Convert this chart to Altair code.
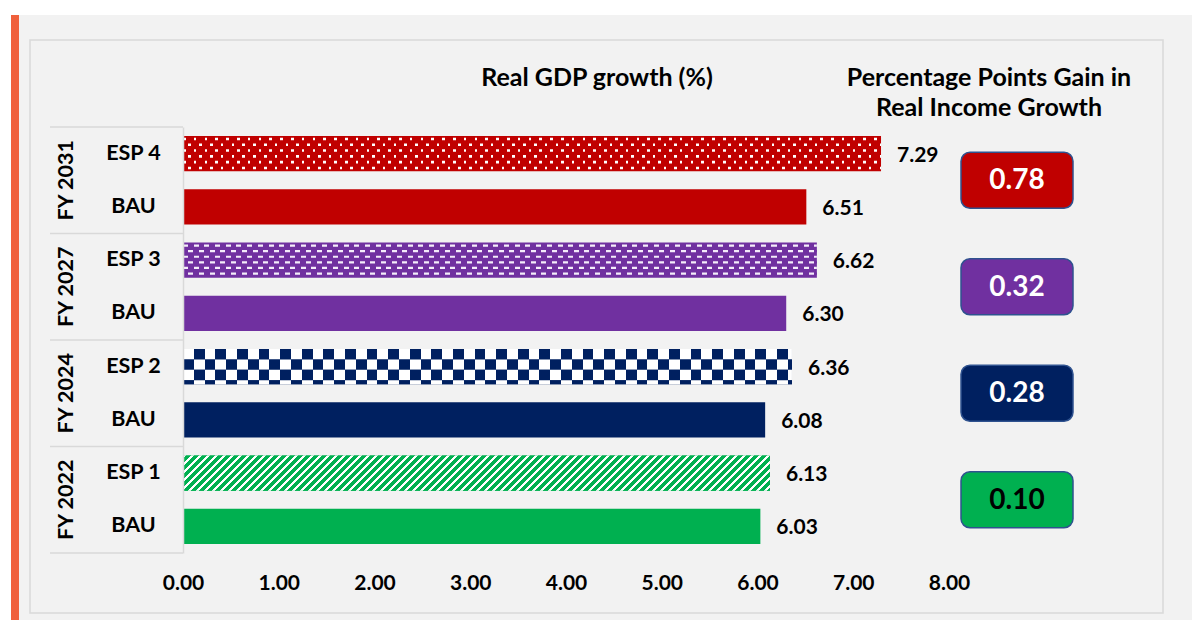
import altair as alt
import pandas as pd

# ---------------- data ----------------
groups = ["FY 2031", "FY 2027", "FY 2024", "FY 2022"]
scenarios = ["ESP 4", "ESP 3", "ESP 2", "ESP 1"]
esp_growth = [7.29, 6.62, 6.36, 6.13]
bau_growth = [6.51, 6.30, 6.08, 6.03]
income_gain = [0.78, 0.32, 0.28, 0.10]
x_ticks = [0, 1, 2, 3, 4, 5, 6, 7, 8]
title_left = "Real GDP growth (%)"
title_right = ["Percentage Points Gain in", "Real Income Growth"]

# ---------------- styles ----------------
palette = ["#C00000", "#7030A0", "#002060", "#00B050"]
gain_text_color = ["#FFFFFF", "#FFFFFF", "#FFFFFF", "#000000"]
patterns = ["dots", "dashes", "checker", "stripes"]
FONT = "Lato"
TXT = "#000000"
LINE = "#D9D9D9"
PANEL = "#F2F2F2"
ACCENT = "#F0603C"

W_PLOT = 766
H_PLOT = 426
PAD_IN = 0.34
PAD_OUT = 0.17
STEP = H_PLOT / 8
BAND = STEP * (1 - PAD_IN)
PPU = W_PLOT / 8

rows = []
for g, s, e, b, c in zip(groups, scenarios, esp_growth, bau_growth, palette):
    rows.append(dict(key=f"{g}|{s}", group=g, label=s, value=e, color=c, kind="esp"))
    rows.append(dict(key=f"{g}|BAU", group=g, label="BAU", value=b, color=c, kind="bau"))
df = pd.DataFrame(rows)
order = list(df["key"])
esp_df = df[df.kind == "esp"].reset_index(drop=True).copy()
esp_df["gain"] = income_gain
esp_df["tcolor"] = gain_text_color

yscale = alt.Scale(domain=order, paddingInner=PAD_IN, paddingOuter=PAD_OUT)
xscale = alt.Scale(domain=[0, 8], nice=False, zero=True)

Y_AXIS = alt.Axis(labelExpr="split(datum.value, '|')[1]", labelAlign="center",
                  labelBaseline="middle", labelPadding=50, ticks=False, tickSize=0,
                  domain=True, domainColor=LINE, domainWidth=1.5, grid=False,
                  labelFont=FONT, labelFontWeight="bold", labelFontSize=21.5,
                  labelColor=TXT, labelOverlap=False, title=None, zindex=2)
X_AXIS = alt.Axis(values=x_ticks, format=".2f", ticks=False, tickSize=0, domain=False,
                  grid=False, labelFont=FONT, labelFontWeight="bold", labelFontSize=21,
                  labelColor=TXT, labelPadding=19, labelOverlap=False, labelFlush=False,
                  title=None, zindex=2)


def Y():
    return alt.Y("key:N", scale=yscale, sort=order, title=None, axis=Y_AXIS)


def X():
    return alt.X("value:Q", scale=xscale, title=None, axis=X_AXIS)


def stops(base, accent, length, period, width, phase=0.0):
    pt, wt = period / length, width / length
    out = [{"color": base, "offset": 0}]
    k = phase / length - pt
    while k < 1:
        a, b = max(0.0, k), min(1.0, k + wt)
        if b > 0 and a < 1:
            out += [{"color": base, "offset": round(a, 5)},
                    {"color": accent, "offset": round(a, 5)},
                    {"color": accent, "offset": round(b, 5)},
                    {"color": base, "offset": round(b, 5)}]
        k += pt
    out.append({"color": base, "offset": 1})
    return out


def hgrad(base, accent, length, period, width, phase=0.0):
    return {"gradient": "linear", "x1": 0, "y1": 0, "x2": 1, "y2": 0,
            "stops": stops(base, accent, length, period, width, phase)}


def diag_grad(base, accent, length, period, width):
    r = BAND / length
    k = 1 + r
    eff = length * k * (1 + r * r)
    return {"gradient": "linear", "x1": 0, "y1": 0, "x2": k, "y2": k * r,
            "stops": stops(base, accent, eff, period, width)}


def rowdata(i):
    return alt.Data(values=[esp_df.loc[i, ["key", "value"]].to_dict()])


layers = []

# background panel, accent stripe and border
one = alt.Data(values=[{"a": 1}])
layers.append(alt.Chart(one).mark_rect(fill=PANEL).encode(
    x=alt.value(-172), x2=alt.value(1030), y=alt.value(-112), y2=alt.value(520)))
layers.append(alt.Chart(one).mark_rect(fill=ACCENT).encode(
    x=alt.value(-172), x2=alt.value(-164), y=alt.value(-112), y2=alt.value(520)))
layers.append(alt.Chart(one).mark_rect(fill=None, stroke=LINE, strokeWidth=1.5).encode(
    x=alt.value(-153), x2=alt.value(980), y=alt.value(-87), y2=alt.value(486)))

# base bars with axes
layers.append(alt.Chart(df).mark_bar(height=BAND).encode(
    y=Y(), x=X(), fill=alt.Fill("color:N", scale=None)))

# patterned ESP bars
for i, pat in enumerate(patterns):
    col = palette[i]
    L = esp_growth[i] * PPU
    if pat == "dots":
        for r in range(6):
            centre = 2.9 + r * 5.8
            layers.append(alt.Chart(rowdata(i)).mark_bar(
                height=2.6, yOffset=centre - BAND / 2,
                fill=hgrad(col, "#FFFFFF", L, 10.8, 2.6, 0 if r % 2 == 0 else 5.4)
            ).encode(y=Y(), x=X()))
    elif pat == "dashes":
        for r in range(6):
            centre = 3.0 + r * 5.6
            layers.append(alt.Chart(rowdata(i)).mark_bar(
                height=2.2, yOffset=centre - BAND / 2,
                fill=hgrad(col, "#F4ECFA", L, 10.7, 5.0, 0 if r % 2 == 0 else 5.35)
            ).encode(y=Y(), x=X()))
    elif pat == "checker":
        cell = 10.4
        r = 0
        top = 0.0
        while top < BAND - 0.1:
            h = min(cell, BAND - top)
            layers.append(alt.Chart(rowdata(i)).mark_bar(
                height=h, yOffset=top + h / 2 - BAND / 2,
                fill=hgrad(col, "#FFFFFF", L, 21.6, 10.8, 0 if r % 2 == 0 else 10.8)
            ).encode(y=Y(), x=X()))
            top += cell
            r += 1
    else:
        layers.append(alt.Chart(rowdata(i)).mark_bar(
            height=BAND, fill=diag_grad(col, "#FFFFFF", L, 8.0, 3.2)
        ).encode(y=Y(), x=X()))

# category group separators
layers.append(alt.Chart(esp_df).mark_rule(color=LINE, strokeWidth=1.5, yOffset=-STEP / 2).encode(
    y=Y(), x=alt.value(-133), x2=alt.value(0)))
layers.append(alt.Chart(df.tail(1)).mark_rule(color=LINE, strokeWidth=1.5, yOffset=STEP / 2).encode(
    y=Y(), x=alt.value(-133), x2=alt.value(0)))

# group labels (rotated)
layers.append(alt.Chart(esp_df).mark_text(
    angle=270, font=FONT, fontWeight="bold", fontSize=21.5, color=TXT,
    align="center", baseline="middle", yOffset=STEP / 2
).encode(y=Y(), x=alt.value(-116), text="group:N"))

# value labels
layers.append(alt.Chart(df).mark_text(
    font=FONT, fontWeight="bold", fontSize=21, color=TXT,
    align="left", baseline="middle", dx=16, dy=2
).encode(y=Y(), x=X(), text=alt.Text("value:Q", format=".2f")))

# gain boxes
layers.append(alt.Chart(esp_df).mark_bar(
    height=56, yOffset=STEP / 2, cornerRadius=9, stroke="#2F528F", strokeWidth=1.5
).encode(y=Y(), x=alt.value(778), x2=alt.value(890), fill=alt.Fill("color:N", scale=None)))
layers.append(alt.Chart(esp_df).mark_text(
    font=FONT, fontWeight="bold", fontSize=28, align="center", baseline="middle",
    yOffset=STEP / 2 + 1
).encode(y=Y(), x=alt.value(834), text=alt.Text("gain:Q", format=".2f"),
         color=alt.Color("tcolor:N", scale=None)))

# titles
layers.append(alt.Chart(one).mark_text(
    text=title_left, font=FONT, fontWeight="bold", fontSize=25, color=TXT,
    align="center", baseline="middle").encode(x=alt.value(414), y=alt.value(-49)))
layers.append(alt.Chart(one).mark_text(
    text=title_right[0], font=FONT, fontWeight="bold", fontSize=25, color=TXT,
    align="center", baseline="middle").encode(x=alt.value(806), y=alt.value(-49)))
layers.append(alt.Chart(one).mark_text(
    text=title_right[1], font=FONT, fontWeight="bold", fontSize=25, color=TXT,
    align="center", baseline="middle").encode(x=alt.value(806), y=alt.value(-19)))

chart = alt.layer(*layers).properties(
    width=W_PLOT, height=H_PLOT,
    padding={"left": 175, "top": 119, "right": 243, "bottom": 67},
    autosize=alt.AutoSizeParams(type="none"),
    background="#FFFFFF",
).configure_view(stroke=None)

chart.save("out.html", embed_options={"renderer": "svg", "actions": False})
